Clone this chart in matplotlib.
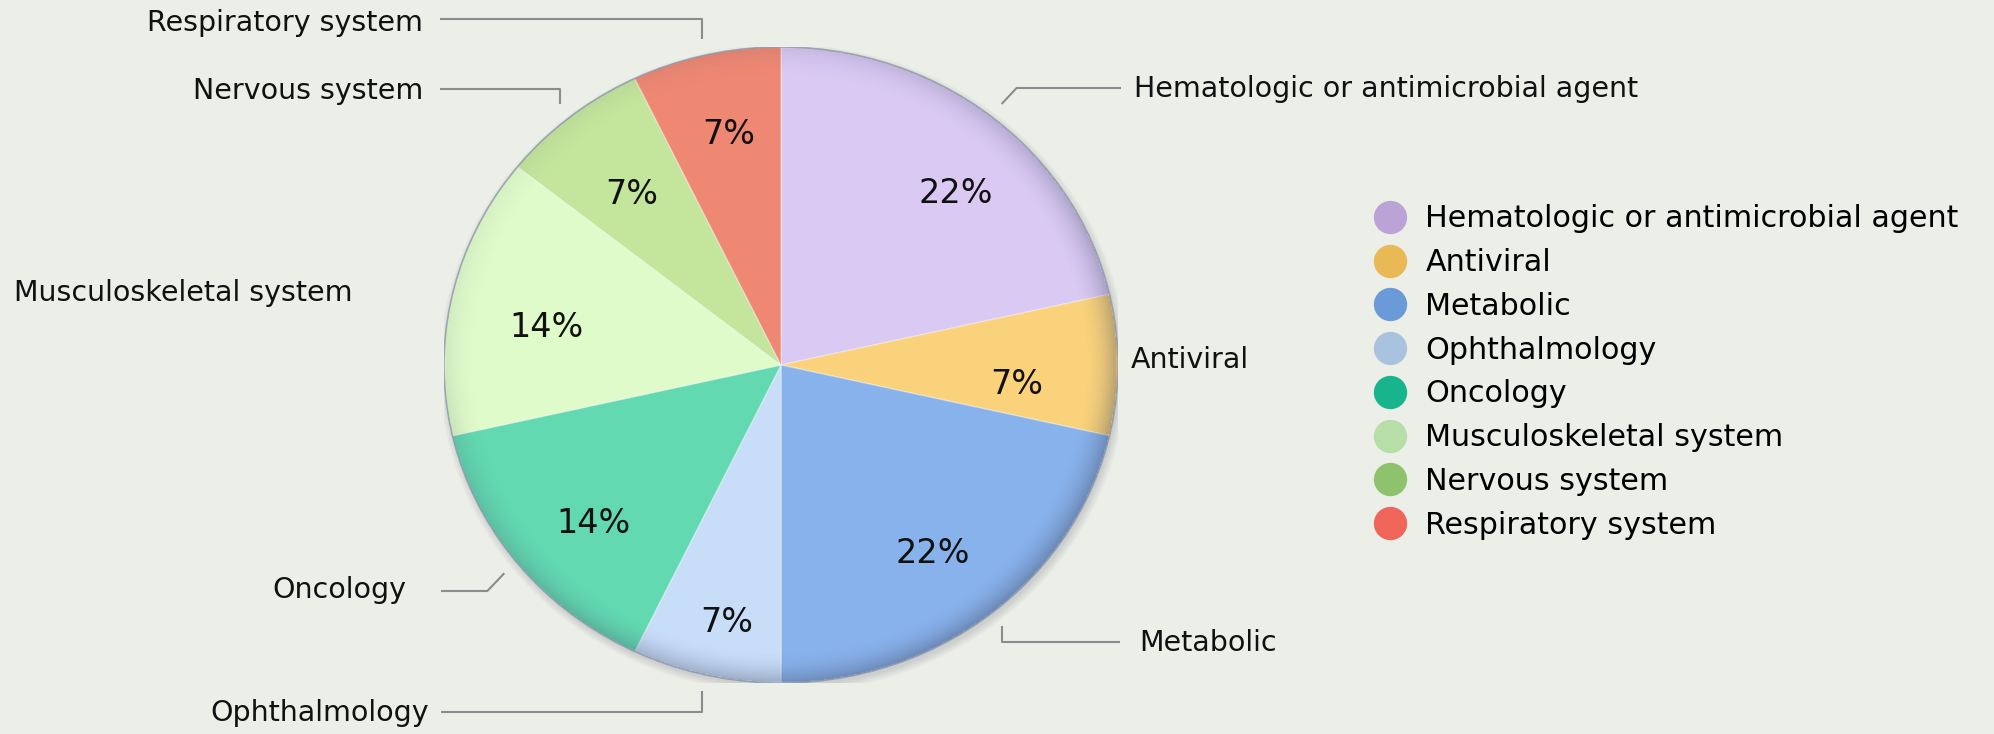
import numpy as np
import matplotlib
matplotlib.use('Agg')
import matplotlib.pyplot as plt
from matplotlib.lines import Line2D
from matplotlib.patches import Ellipse

# data
categories = ['Hematologic or antimicrobial agent', 'Antiviral', 'Metabolic', 'Ophthalmology',
              'Oncology', 'Musculoskeletal system', 'Nervous system', 'Respiratory system']
counts = [3, 1, 3, 1, 2, 2, 1, 1]
pct_labels = ['22%', '7%', '22%', '7%', '14%', '14%', '7%', '7%']
slice_colors = ['#D9C9F3', '#F9D27B', '#88B2EC', '#C8DDF8', '#62D9B1', '#DFFBC9', '#C3E59C', '#EF8873']
legend_colors = ['#BBA3D8', '#E9B955', '#6B9AD8', '#A9C3DF', '#18B48D', '#B6DEA6', '#8EC26C', '#F0655A']

W, H = 1994, 734
bg = '#ECEEE8'
plt.rcParams['font.family'] = ['DejaVu Sans']

fig = plt.figure(figsize=(W / 100, H / 100), dpi=100, facecolor=bg)

# pie geometry in pixels (slightly wider than tall, like the reference)
cx, cy, rx, ry = 781, 365, 337, 318
axp = fig.add_axes([(cx - rx) / W, (H - cy - ry) / H, 2 * rx / W, 2 * ry / H])
axp.set_facecolor('none')

# soft shadow behind the pie
for k in range(5):
    axp.add_patch(Ellipse((0.006, -0.012), 2 + 0.01 * k, 2 + 0.01 * k, facecolor='#5a6070',
                          edgecolor='none', alpha=0.045, zorder=0))

wedges, texts = axp.pie(counts, colors=slice_colors, startangle=90, counterclock=False, radius=1,
                        wedgeprops=dict(edgecolor=(1, 1, 1, 0.35), linewidth=1))
for w in wedges:
    w.set_zorder(1)

# rim shading, darker toward lower right
gx, gy = np.meshgrid(np.linspace(-1, 1, 500), np.linspace(-1, 1, 500))
rr = np.sqrt(gx ** 2 + gy ** 2)
side = np.clip((gx - gy) / (np.sqrt(2) * np.maximum(rr, 1e-6)), -1, 1) * 0.5 + 0.5
alpha = np.clip((rr - 0.9) / 0.1, 0, 1) ** 2 * (0.06 + 0.34 * side)
alpha[rr > 1] = 0
shade = np.zeros((500, 500, 4))
shade[..., :3] = np.array([0.25, 0.28, 0.38])
shade[..., 3] = alpha
im = axp.imshow(shade, extent=(-1, 1, -1, 1), origin='lower', zorder=2, interpolation='bilinear')
im.set_clip_path(Ellipse((0, 0), 2, 2, transform=axp.transData))
axp.add_patch(Ellipse((0, 0), 2, 2, facecolor='none', edgecolor='#7d8799', lw=1.2, alpha=0.7, zorder=3))

axp.set_aspect('auto')
axp.set_xlim(-1, 1)
axp.set_ylim(-1, 1)
axp.axis('off')

# overlay in pixel coordinates for labels and leader lines
ax = fig.add_axes([0, 0, 1, 1], facecolor='none')
ax.set_xlim(0, W)
ax.set_ylim(H, 0)
ax.axis('off')

# percent labels sit at 0.75 of the radius on the slice middle, nudged like the original
pct_nudge = {
    'Hematologic or antimicrobial agent': (17, 15), 'Antiviral': (-17, 19), 'Metabolic': (-6, 2),
    'Ophthalmology': (2, 25), 'Oncology': (10, 10), 'Musculoskeletal system': (12, 16),
    'Nervous system': (8, 16), 'Respiratory system': (4, 2),
}

# label layout: text x, text y, ha, leader (elbow dx, line y, line end x) or None
layout = {
    'Respiratory system': (423, 23, 'right', (0, 19, 440)),
    'Nervous system': (423, 91, 'right', (0, 89, 440)),
    'Musculoskeletal system': (14, 293, 'left', None),
    'Hematologic or antimicrobial agent': (1134, 89, 'left', (15, 88, 1121)),
    'Antiviral': (1131, 360, 'left', None),
    'Metabolic': (1139, 643, 'left', (0, 642, 1120)),
    'Oncology': (406, 590, 'right', (-17, 591, 441)),
    'Ophthalmology': (429, 713, 'right', (0, 712, 441)),
}

for w, name, pct in zip(wedges, categories, pct_labels):
    theta = np.deg2rad((w.theta1 + w.theta2) / 2)
    nx, ny = pct_nudge[name]
    ax.text(cx + rx * 0.75 * np.cos(theta) + nx, cy - ry * 0.75 * np.sin(theta) + ny, pct,
            fontsize=24, ha='center', va='center', color='#111111')

    tx, ty, ha, lead = layout[name]
    ax.text(tx, ty, name, fontsize=20.5, ha=ha, va='center', color='#111111')
    if lead is None:
        continue
    sx = cx + rx * 1.05 * np.cos(theta)
    sy = cy - ry * 1.05 * np.sin(theta)
    dx, ly, ex = lead
    ax.plot([sx, sx + dx, ex], [sy, ly, ly], color='#8C8C8C', lw=1.5, solid_capstyle='butt')

handles = [Line2D([], [], marker='o', ls='', ms=24, mfc=c, mec='none') for c in legend_colors]
ax.legend(handles, categories, loc='center left', bbox_to_anchor=(1360, 372), bbox_transform=ax.transData,
          frameon=False, fontsize=21.7, labelspacing=0.49, handlelength=2, handletextpad=0.17,
          borderpad=0, borderaxespad=0)

fig.savefig('out.png', dpi=100, facecolor=bg)
